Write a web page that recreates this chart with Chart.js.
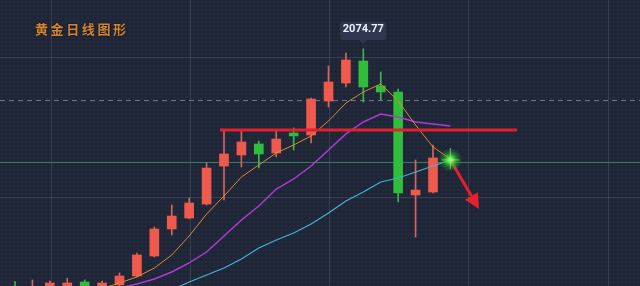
<!DOCTYPE html>
<html><head><meta charset="utf-8">
<script src="https://cdn.jsdelivr.net/npm/chart.js@4.4.1/dist/chart.umd.min.js"></script>
<style>
html,body{margin:0;padding:0;background:#1e2638;overflow:hidden}
#wrap{position:relative;width:640px;height:286px}
#title{position:absolute;left:35px;top:21px;font:bold 13px "Noto Sans CJK SC";line-height:16px;color:#d4862e;letter-spacing:2.6px;text-shadow:0 0 2px rgba(0,0,0,.8);white-space:nowrap}
#tip{position:absolute;left:0;top:0;width:46px;height:18px;line-height:18px;text-align:center;background:#2d374f;border-radius:2px;color:#eef1f7;font:bold 11px Roboto,"DejaVu Sans",sans-serif;white-space:nowrap}
#tip:after{content:"";position:absolute;left:19px;top:18px;border-left:4px solid transparent;border-right:4px solid transparent;border-top:4px solid #2d374f}
</style></head>
<body>
<div id="wrap"><canvas id="c"></canvas>
<div id="title">黄金日线图形</div>
<div id="tip">2074.77</div>
</div>
<script>
// ---- data (candle index 0..24, daily gold) ----
const opens  = [1801,1797,1798,1798,1806.6,1798,1803.2,1813.5,1836.5,1867.6,1880.2,1896.3,1940.0,1952.7,1965.4,1955.0,1978.0,1975.7,2014.8,2035.5,2060.8,2032.1,2025.2,1906.7,1910.1];
const highs  = [1807,1809,1807.8,1811,1809,1807.8,1817,1840,1869.9,1895.2,1903.2,1943.5,1980.3,1980.3,1968.8,1980.3,1983.8,2018.3,2055.1,2070.0,2074.77,2048.2,2028.6,1947.0,1964.2];
const lows   = [1795,1794,1795,1796,1795,1796,1800.9,1812.4,1835.4,1860.7,1879.1,1895.2,1900.9,1938.9,1937.7,1950.4,1958.5,1966.5,2007.9,2030.9,2013.7,2016.0,1898.6,1858.4,1909];
const closes = [1798,1800,1805.5,1805.5,1798,1805.5,1813.5,1837.7,1867.6,1882.5,1897.5,1937.7,1953.9,1967.7,1953.9,1971.1,1974.6,2017.1,2036.7,2062.0,2030.9,2025.2,1909.0,1912.4,1949.3];
// moving averages (index 0..25)
const maOrange  = [null,null,null,null,null,1799,1805.5,1812.4,1822.7,1837.7,1859.5,1884.8,1905.5,1927.4,1941.2,1955.0,1964.2,1974.6,1991.8,2012.5,2025.2,2034.4,2014.8,1987.2,1961.9,1948.1];
const maMagenta = [null,null,null,null,null,1796,1799.7,1804.3,1810.1,1818.1,1828.5,1841.1,1859.5,1877.9,1894.0,1913.6,1925.1,1940.0,1958.5,1976.9,1990.7,1999.9,1996.4,1990.7,1988.4,1986.1];
const maCyan    = [null,null,null,null,null,null,null,null,null,1797.4,1806.6,1814.7,1822.7,1833.1,1845.7,1854.9,1863.0,1873.3,1886.0,1899.8,1910.1,1921.6,1926.2,1933.2,1940.0,1947.0];
// reference levels
const supportLevel = 1981.5, supportFrom = 11.77, supportTo = 28.82;
const greenLevel = 1944.6;
const dashedLevel = 2016.0;
const xGridLines = [2.07, 10.05, 18.03, 26.0, 34.04];
const yGridLines = [2065.4, 1904.4];
const dotPoint = {x: 25, y: 1947};
const arrowTip = {x: 26.64, y: 1890.5};
const peakIndex = 20;

const UP='#ef5a4c', DOWN='#2fbd3b', UPW='#d9645e', DOWNW='#3ab84a';
const idx = opens.map((_,i)=>i);
const isUp = idx.map(i=>closes[i]>=opens[i]);
const pts = arr => arr.map((v,i)=>v==null?null:{x:i,y:v}).filter(p=>p);

const bgPlugin = {
  id:'bg',
  beforeDraw(chart){
    const {ctx,width,height,scales:{x,y}} = chart;
    ctx.save();
    ctx.fillStyle='#1e2638'; ctx.fillRect(0,0,width,height);
    // faint dot texture
    ctx.fillStyle='rgba(120,135,165,0.06)';
    for(let yy=1;yy<height;yy+=4){for(let xx=1;xx<width;xx+=4){ctx.fillRect(xx,yy,2,2);}}
    // grid
    ctx.strokeStyle='rgba(140,150,170,0.22)'; ctx.lineWidth=1;
    xGridLines.forEach(v=>{const px=Math.round(x.getPixelForValue(v))+0.5;ctx.beginPath();ctx.moveTo(px,0);ctx.lineTo(px,height);ctx.stroke();});
    yGridLines.forEach(v=>{const py=Math.round(y.getPixelForValue(v))+0.5;ctx.beginPath();ctx.moveTo(0,py);ctx.lineTo(width,py);ctx.stroke();});
    // dashed level
    ctx.strokeStyle='#6f7788'; ctx.setLineDash([5,4]);
    let py=Math.round(y.getPixelForValue(dashedLevel))+0.5;
    ctx.beginPath();ctx.moveTo(0,py);ctx.lineTo(width,py);ctx.stroke();
    ctx.setLineDash([]);
    // green level
    ctx.strokeStyle='#2f7f62';
    py=Math.round(y.getPixelForValue(greenLevel))+0.5;
    ctx.beginPath();ctx.moveTo(0,py);ctx.lineTo(width,py);ctx.stroke();
    ctx.restore();
  },
  afterDatasetsDraw(chart){
    const {ctx,scales:{x,y}} = chart;
    ctx.save();
    // support line
    const py=y.getPixelForValue(supportLevel);
    ctx.strokeStyle='#e3202c'; ctx.lineWidth=3;
    ctx.beginPath();ctx.moveTo(x.getPixelForValue(supportFrom),py);ctx.lineTo(x.getPixelForValue(supportTo),py);ctx.stroke();
    // arrow
    const x0=x.getPixelForValue(dotPoint.x), y0=y.getPixelForValue(dotPoint.y);
    const x1=x.getPixelForValue(arrowTip.x), y1=y.getPixelForValue(arrowTip.y);
    const ang=Math.atan2(y1-y0,x1-x0), hl=15, hw=7.5;
    const bx=x1-hl*Math.cos(ang), by=y1-hl*Math.sin(ang);
    ctx.strokeStyle='#e8202a'; ctx.fillStyle='#e8202a'; ctx.lineWidth=3;
    ctx.beginPath();ctx.moveTo(x0,y0);ctx.lineTo(bx,by);ctx.stroke();
    ctx.beginPath();ctx.moveTo(x1,y1);
    ctx.lineTo(bx+hw*Math.sin(ang),by-hw*Math.cos(ang));
    ctx.lineTo(bx-hw*Math.sin(ang),by+hw*Math.cos(ang));
    ctx.closePath();ctx.fill();
    // glow dot
    const g=ctx.createRadialGradient(x0,y0,0,x0,y0,12);
    g.addColorStop(0,'rgba(230,255,200,1)');
    g.addColorStop(0.25,'rgba(80,240,60,0.95)');
    g.addColorStop(0.6,'rgba(40,200,40,0.4)');
    g.addColorStop(1,'rgba(40,200,40,0)');
    ctx.fillStyle=g; ctx.beginPath();ctx.arc(x0,y0,12,0,Math.PI*2);ctx.fill();
    ctx.strokeStyle='rgba(150,255,120,0.6)'; ctx.lineWidth=1;
    ctx.beginPath();ctx.moveTo(x0-9,y0);ctx.lineTo(x0+9,y0);ctx.moveTo(x0,y0-12);ctx.lineTo(x0,y0+9);ctx.stroke();
    ctx.restore();
    // tooltip label position
    const tip=document.getElementById('tip');
    const tx=x.getPixelForValue(peakIndex), ty=y.getPixelForValue(highs[peakIndex]);
    tip.style.left=(tx-23)+'px'; tip.style.top=(ty-27)+'px';
  }
};

new Chart(document.getElementById('c'),{
  type:'bar',
  data:{datasets:[
    {type:'line',data:pts(maOrange),borderColor:'#e0892e',borderWidth:1,pointRadius:0,tension:0,order:1},
    {type:'line',data:pts(maMagenta),borderColor:'#b03ad4',borderWidth:1.5,pointRadius:0,tension:0,order:1},
    {type:'line',data:pts(maCyan),borderColor:'#3fb6cf',borderWidth:1.2,pointRadius:0,tension:0,order:1},
    {data:idx.map(i=>({x:i,y:[lows[i],highs[i]]})),backgroundColor:idx.map(i=>isUp[i]?UPW:DOWNW),barThickness:1,grouped:false,order:3},
    {data:idx.map(i=>({x:i,y:[opens[i],closes[i]]})),backgroundColor:idx.map(i=>isUp[i]?UP:DOWN),barThickness:9,grouped:false,minBarLength:2,order:2}
  ]},
  options:{
    responsive:true,maintainAspectRatio:false,animation:false,devicePixelRatio:1,
    layout:{padding:0},
    plugins:{legend:{display:false},tooltip:{enabled:false}},
    scales:{
      x:{type:'linear',min:-0.861,max:35.885,offset:false,display:false},
      y:{type:'linear',min:1802,max:2131,display:false}
    }
  },
  plugins:[bgPlugin]
});
</script>
</body></html>
